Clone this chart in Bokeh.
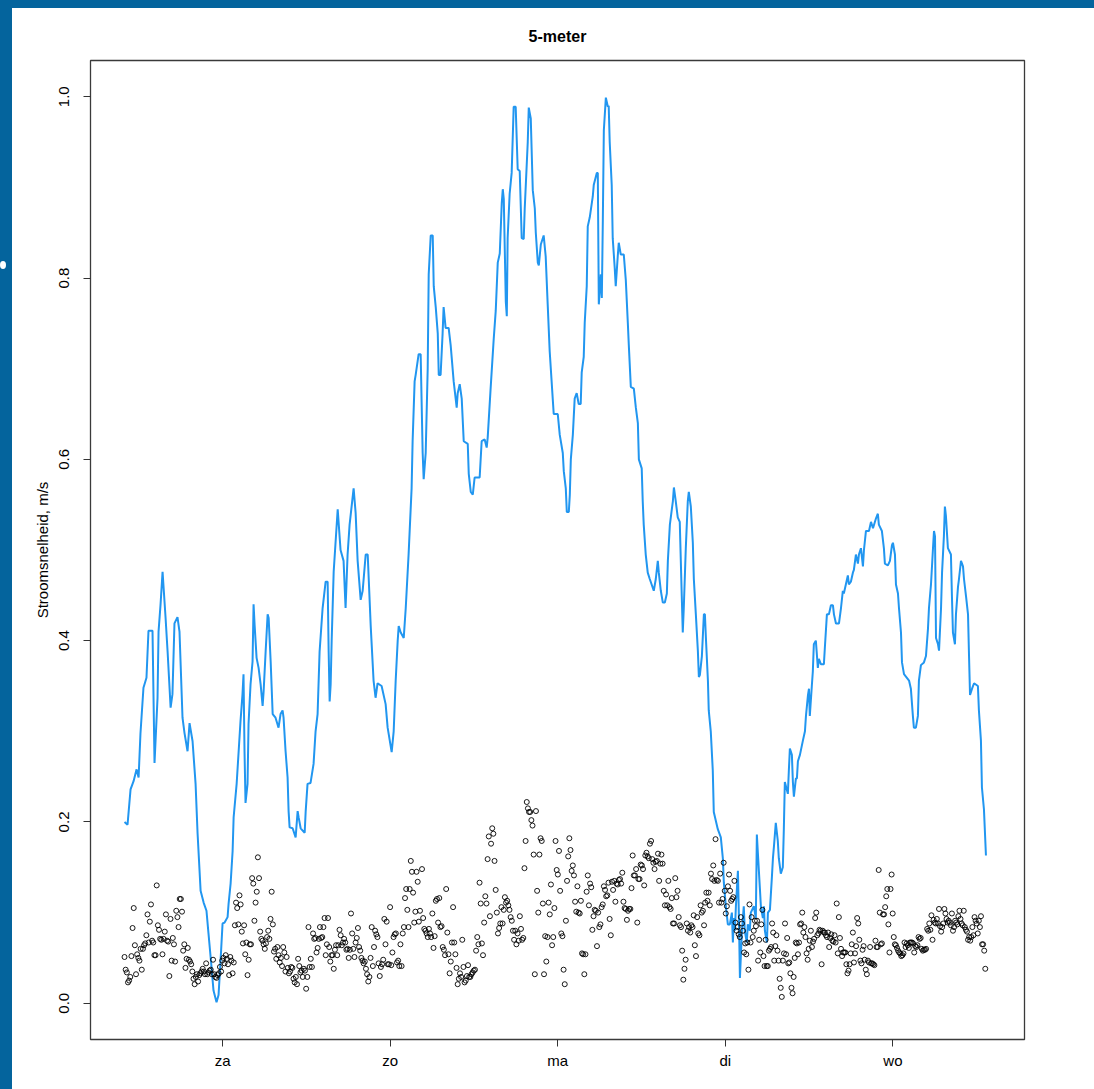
from bokeh.plotting import figure
from bokeh.models import Range1d, FixedTicker, PrintfTickFormatter, Div
from bokeh.layouts import row, column
from bokeh.embed import file_html
from bokeh.resources import INLINE
import numpy as np

# ---------------- data ----------------
day_ticks = [1, 2, 3, 4, 5]
day_labels = ["za", "zo", "ma", "di", "wo"]
y_ticks = [0.0, 0.2, 0.4, 0.6, 0.8, 1.0]

# blue line: time (days, za = 1) and current speed (m/s)
line_t = [0.415,0.433,0.451,0.469,0.487,0.499,0.510,0.528,0.546,0.558,0.582,0.594,0.612,0.618,0.630,0.642,0.660,0.672,0.690,0.701,
0.713,0.731,0.743,0.761,0.773,0.791,0.803,0.821,0.839,0.851,0.869,0.887,0.904,0.916,0.934,0.946,0.964,0.976,0.988,1.000,
1.012,1.030,1.036,1.048,1.060,1.066,1.084,1.096,1.107,1.119,1.125,1.131,1.137,1.149,1.155,1.167,1.179,1.185,1.191,1.203,
1.215,1.227,1.239,1.245,1.257,1.269,1.275,1.287,1.299,1.316,1.334,1.346,1.358,1.364,1.376,1.388,1.394,1.400,1.418,1.436,
1.448,1.454,1.466,1.490,1.496,1.507,1.525,1.543,1.555,1.567,1.579,1.597,1.615,1.627,1.633,1.639,1.645,1.651,1.663,1.687,
1.704,1.722,1.734,1.746,1.758,1.782,1.794,1.806,1.824,1.836,1.854,1.866,1.884,1.901,1.913,1.925,1.949,1.973,1.985,2.009,
2.021,2.033,2.045,2.051,2.063,2.081,2.093,2.110,2.128,2.134,2.146,2.152,2.170,2.182,2.194,2.200,2.212,2.224,2.230,2.242,
2.254,2.260,2.272,2.284,2.290,2.301,2.313,2.319,2.331,2.349,2.361,2.379,2.397,2.403,2.415,2.427,2.439,2.463,2.469,2.481,
2.493,2.504,2.534,2.546,2.564,2.576,2.582,2.600,2.618,2.630,2.642,2.654,2.666,2.672,2.678,2.690,2.696,2.701,2.713,2.725,
2.737,2.749,2.761,2.773,2.785,2.797,2.803,2.821,2.827,2.839,2.851,2.863,2.869,2.881,2.887,2.899,2.916,2.928,2.940,2.952,
2.970,2.976,3.000,3.012,3.030,3.036,3.048,3.054,3.066,3.072,3.078,3.090,3.101,3.113,3.125,3.137,3.143,3.155,3.161,3.173,
3.179,3.191,3.209,3.215,3.233,3.239,3.245,3.257,3.263,3.269,3.275,3.287,3.299,3.304,3.310,3.322,3.328,3.340,3.346,3.358,
3.364,3.376,3.394,3.406,3.418,3.424,3.436,3.454,3.466,3.478,3.484,3.501,3.507,3.513,3.525,3.537,3.549,3.573,3.585,3.597,
3.603,3.615,3.627,3.639,3.651,3.657,3.669,3.687,3.693,3.704,3.716,3.728,3.740,3.746,3.752,3.764,3.776,3.782,3.794,3.806,
3.812,3.824,3.836,3.842,3.848,3.860,3.872,3.878,3.884,3.896,3.901,3.913,3.925,3.931,3.955,3.973,3.985,3.991,4.003,4.015,
4.027,4.039,4.045,4.051,4.057,4.063,4.075,4.081,4.087,4.099,4.110,4.116,4.128,4.134,4.146,4.152,4.170,4.182,4.188,4.194,
4.206,4.212,4.224,4.230,4.236,4.248,4.254,4.266,4.278,4.284,4.290,4.301,4.313,4.319,4.331,4.343,4.349,4.355,4.373,4.379,
4.385,4.397,4.403,4.409,4.421,4.427,4.433,4.445,4.463,4.475,4.481,4.493,4.499,4.504,4.516,4.522,4.528,4.540,4.552,4.558,
4.570,4.588,4.594,4.606,4.618,4.630,4.642,4.648,4.660,4.678,4.690,4.701,4.707,4.719,4.731,4.737,4.749,4.761,4.767,4.779,
4.791,4.797,4.809,4.821,4.827,4.839,4.857,4.869,4.881,4.899,4.910,4.916,4.934,4.946,4.952,4.970,4.982,4.994,5.000,5.012,
5.018,5.030,5.036,5.048,5.054,5.066,5.096,5.107,5.119,5.125,5.137,5.149,5.155,5.167,5.185,5.197,5.209,5.215,5.227,5.239,
5.245,5.251,5.257,5.269,5.275,5.287,5.293,5.304,5.310,5.316,5.328,5.346,5.352,5.358,5.370,5.376,5.388,5.394,5.406,5.418,
5.424,5.436,5.448,5.454,5.460,5.472,5.484,5.507,5.513,5.525,5.531,5.543,5.555]

line_v = [0.200,0.197,0.236,0.245,0.258,0.249,0.297,0.348,0.359,0.411,0.411,0.265,0.337,0.410,0.440,0.476,0.425,0.388,0.326,0.341,
0.419,0.426,0.410,0.315,0.298,0.278,0.309,0.289,0.242,0.187,0.124,0.111,0.102,0.077,0.040,0.014,0.001,0.009,0.047,0.088,
0.089,0.095,0.110,0.132,0.168,0.205,0.242,0.278,0.311,0.341,0.363,0.278,0.221,0.242,0.308,0.352,0.377,0.440,0.418,0.381,
0.370,0.352,0.328,0.344,0.388,0.429,0.425,0.377,0.319,0.315,0.304,0.319,0.323,0.315,0.278,0.249,0.212,0.194,0.193,0.183,
0.212,0.205,0.193,0.188,0.212,0.242,0.243,0.264,0.300,0.319,0.388,0.436,0.465,0.465,0.388,0.333,0.352,0.400,0.476,0.545,
0.500,0.488,0.436,0.495,0.528,0.568,0.541,0.488,0.445,0.455,0.495,0.495,0.416,0.356,0.337,0.353,0.350,0.330,0.304,0.277,
0.300,0.356,0.400,0.416,0.409,0.403,0.436,0.495,0.568,0.620,0.686,0.693,0.716,0.716,0.607,0.578,0.607,0.700,0.804,0.847,
0.847,0.791,0.768,0.739,0.693,0.693,0.739,0.768,0.745,0.745,0.726,0.686,0.657,0.673,0.683,0.667,0.620,0.617,0.584,0.564,
0.561,0.580,0.580,0.620,0.622,0.613,0.624,0.680,0.733,0.764,0.817,0.827,0.883,0.898,0.887,0.774,0.758,0.844,0.893,0.916,
0.989,0.989,0.920,0.918,0.844,0.843,0.877,0.950,0.988,0.976,0.897,0.877,0.850,0.817,0.814,0.837,0.847,0.824,0.771,0.719,
0.667,0.650,0.650,0.627,0.607,0.587,0.568,0.542,0.542,0.561,0.600,0.627,0.667,0.673,0.661,0.661,0.696,0.713,0.751,0.791,
0.857,0.867,0.890,0.903,0.916,0.916,0.771,0.804,0.778,0.864,0.963,0.999,0.989,0.990,0.950,0.903,0.844,0.811,0.791,0.824,
0.839,0.826,0.826,0.798,0.751,0.726,0.680,0.678,0.657,0.640,0.600,0.590,0.554,0.528,0.495,0.475,0.468,0.455,0.468,0.488,
0.475,0.455,0.442,0.442,0.452,0.488,0.528,0.554,0.569,0.554,0.536,0.531,0.449,0.409,0.436,0.502,0.554,0.564,0.548,0.508,
0.468,0.429,0.389,0.360,0.362,0.383,0.429,0.429,0.403,0.356,0.323,0.300,0.257,0.211,0.192,0.183,0.160,0.133,0.107,0.087,
0.087,0.100,0.067,0.094,0.080,0.107,0.146,0.094,0.028,0.080,0.107,0.080,0.067,0.087,0.080,0.100,0.107,0.094,0.186,0.166,
0.127,0.107,0.094,0.107,0.080,0.067,0.100,0.103,0.140,0.160,0.173,0.199,0.179,0.160,0.143,0.150,0.192,0.244,0.231,0.257,
0.281,0.274,0.244,0.228,0.248,0.248,0.267,0.274,0.290,0.300,0.317,0.340,0.347,0.317,0.350,0.366,0.396,0.400,0.370,0.380,
0.374,0.374,0.393,0.429,0.429,0.439,0.439,0.429,0.419,0.419,0.436,0.455,0.452,0.462,0.472,0.462,0.465,0.475,0.478,0.495,
0.485,0.495,0.502,0.482,0.500,0.521,0.521,0.531,0.524,0.535,0.540,0.528,0.521,0.502,0.485,0.483,0.488,0.505,0.508,0.495,
0.462,0.452,0.436,0.409,0.376,0.363,0.356,0.347,0.317,0.304,0.304,0.317,0.356,0.373,0.376,0.383,0.413,0.436,0.462,0.502,
0.521,0.515,0.403,0.396,0.389,0.436,0.475,0.515,0.548,0.538,0.502,0.495,0.449,0.409,0.396,0.429,0.459,0.468,0.488,0.482,
0.468,0.449,0.429,0.383,0.340,0.347,0.353,0.350,0.323,0.290,0.238,0.214,0.163]

# open circles: regularly sampled measurements, in three stretches (start day, end day, values)
pts1_start, pts1_end = 0.415, 2.178
pts1_v = [0.051,0.037,0.034,0.023,0.025,0.029,0.052,0.083,0.105,0.064,0.032,0.054,0.050,0.047,0.060,0.037,0.060,0.064,0.066,0.075,
0.098,0.067,0.090,0.109,0.069,0.067,0.053,0.053,0.130,0.086,0.081,0.071,0.070,0.054,0.071,0.079,0.098,0.069,0.068,0.030,
0.093,0.047,0.072,0.065,0.046,0.102,0.095,0.084,0.115,0.115,0.101,0.058,0.065,0.039,0.049,0.061,0.048,0.046,0.043,0.035,
0.027,0.021,0.029,0.032,0.024,0.031,0.033,0.035,0.038,0.035,0.032,0.044,0.032,0.034,0.036,0.037,0.032,0.048,0.032,0.029,
0.028,0.031,0.033,0.040,0.035,0.047,0.050,0.044,0.053,0.049,0.043,0.031,0.051,0.047,0.033,0.045,0.086,0.111,0.105,0.087,
0.119,0.109,0.079,0.066,0.086,0.054,0.067,0.031,0.048,0.065,0.065,0.138,0.132,0.091,0.111,0.123,0.161,0.138,0.079,0.071,
0.069,0.065,0.060,0.066,0.073,0.080,0.071,0.093,0.123,0.087,0.057,0.060,0.049,0.062,0.053,0.045,0.050,0.041,0.062,0.056,
0.035,0.051,0.039,0.033,0.035,0.040,0.039,0.027,0.023,0.029,0.021,0.049,0.041,0.034,0.036,0.029,0.038,0.036,0.016,0.029,
0.084,0.040,0.049,0.040,0.077,0.071,0.072,0.056,0.061,0.071,0.084,0.072,0.073,0.084,0.094,0.053,0.065,0.094,0.062,0.046,
0.053,0.053,0.038,0.059,0.064,0.053,0.064,0.081,0.075,0.064,0.067,0.071,0.067,0.059,0.060,0.050,0.059,0.099,0.077,0.060,
0.051,0.067,0.072,0.083,0.062,0.058,0.050,0.047,0.044,0.046,0.038,0.032,0.024,0.029,0.050,0.084,0.041,0.062,0.080,0.076,
0.073,0.044,0.030,0.040,0.043,0.048,0.093,0.065,0.090,0.043,0.043,0.106,0.042,0.056,0.073,0.076,0.077,0.045,0.047,0.041,
0.065,0.041,0.077,0.084,0.116,0.126,0.103,0.084,0.126,0.157,0.145,0.122,0.089,0.101,0.145,0.134,0.090,0.102]

pts2_start, pts2_end = 2.190, 3.969
pts2_v = [0.148,0.094,0.082,0.080,0.077,0.073,0.082,0.077,0.073,0.099,0.061,0.074,0.113,0.115,0.089,0.116,0.084,0.085,0.062,0.059,
0.053,0.126,0.078,0.054,0.033,0.046,0.067,0.106,0.067,0.054,0.039,0.021,0.027,0.033,0.029,0.070,0.040,0.023,0.025,0.030,
0.042,0.029,0.029,0.032,0.034,0.036,0.037,0.058,0.073,0.065,0.133,0.110,0.066,0.053,0.089,0.118,0.110,0.159,0.184,0.096,
0.176,0.193,0.187,0.157,0.125,0.100,0.077,0.083,0.088,0.106,0.088,0.103,0.117,0.111,0.113,0.108,0.103,0.095,0.091,0.080,
0.070,0.080,0.065,0.077,0.069,0.096,0.082,0.070,0.072,0.149,0.179,0.222,0.215,0.211,0.211,0.202,0.196,0.164,0.032,0.212,
0.124,0.100,0.164,0.182,0.179,0.110,0.032,0.074,0.046,0.073,0.111,0.098,0.131,0.064,0.073,0.105,0.179,0.147,0.142,0.168,
0.124,0.077,0.074,0.037,0.021,0.091,0.135,0.162,0.182,0.169,0.146,0.152,0.141,0.112,0.101,0.129,0.100,0.099,0.113,0.055,
0.054,0.032,0.054,0.123,0.141,0.108,0.132,0.128,0.081,0.096,0.103,0.102,0.063,0.100,0.084,0.087,0.106,0.109,0.129,0.125,
0.118,0.119,0.133,0.093,0.075,0.134,0.125,0.135,0.112,0.132,0.131,0.136,0.137,0.132,0.144,0.112,0.105,0.104,0.092,0.102,
0.104,0.104,0.127,0.163,0.141,0.141,0.148,0.089,0.137,0.137,0.153,0.152,0.148,0.130,0.163,0.166,0.162,0.160,0.176,0.179,
0.159,0.155,0.148,0.156,0.157,0.165,0.135,0.154,0.164,0.154,0.124,0.108,0.120,0.108,0.135,0.106,0.104,0.116,0.088,0.088,
0.138,0.117,0.124,0.095,0.086,0.084,0.058,0.026,0.038,0.048,0.088,0.080,0.084,0.078,0.086,0.084,0.097,0.064,0.052,0.095,
0.077,0.075,0.108,0.100,0.102,0.086,0.111,0.122,0.113,0.122,0.108,0.143,0.137,0.152,0.135,0.181,0.136,0.135,0.111,0.143]

pts3_start, pts3_end = 3.977, 5.551
pts3_v = [0.111,0.115,0.155,0.124,0.099,0.107,0.129,0.142,0.124,0.113,0.115,0.117,0.135,0.089,0.080,0.084,0.076,0.073,0.095,0.088,
0.080,0.056,0.066,0.054,0.067,0.037,0.109,0.067,0.095,0.073,0.080,0.091,0.085,0.091,0.047,0.070,0.056,0.087,0.103,0.052,
0.041,0.070,0.041,0.041,0.058,0.060,0.062,0.088,0.078,0.047,0.063,0.075,0.058,0.047,0.027,0.017,0.007,0.047,0.055,0.088,
0.054,0.072,0.044,0.045,0.033,0.017,0.011,0.029,0.050,0.067,0.066,0.054,0.067,0.087,0.088,0.100,0.078,0.084,0.073,0.055,
0.048,0.060,0.069,0.080,0.062,0.068,0.071,0.094,0.100,0.075,0.077,0.081,0.080,0.043,0.080,0.078,0.078,0.075,0.073,0.078,
0.062,0.072,0.076,0.069,0.068,0.075,0.067,0.110,0.055,0.095,0.072,0.060,0.052,0.056,0.056,0.056,0.043,0.033,0.036,0.043,
0.055,0.065,0.078,0.045,0.055,0.063,0.094,0.088,0.070,0.047,0.044,0.059,0.063,0.048,0.037,0.032,0.047,0.045,0.062,0.044,
0.044,0.043,0.042,0.069,0.062,0.062,0.147,0.100,0.065,0.066,0.098,0.098,0.106,0.118,0.126,0.087,0.056,0.126,0.142,0.099,
0.073,0.065,0.064,0.061,0.058,0.056,0.055,0.052,0.053,0.055,0.067,0.062,0.066,0.064,0.061,0.067,0.067,0.067,0.066,0.056,
0.063,0.062,0.064,0.073,0.071,0.072,0.060,0.058,0.059,0.059,0.060,0.082,0.080,0.088,0.081,0.097,0.070,0.092,0.089,0.088,
0.093,0.088,0.104,0.085,0.079,0.084,0.088,0.104,0.099,0.093,0.089,0.091,0.089,0.086,0.099,0.080,0.084,0.091,0.089,0.087,
0.096,0.102,0.093,0.088,0.086,0.102,0.084,0.081,0.079,0.070,0.073,0.069,0.073,0.084,0.075,0.095,0.091,0.088,0.077,0.091,
0.084,0.096,0.065,0.065,0.058,0.038]

# ---------------- figure ----------------
BLUE = "#04649d"
FONT = "Liberation Sans"

p = figure(width=1082, height=1081, output_backend="svg", toolbar_location=None,
           x_range=Range1d(0.212, 5.785), y_range=Range1d(-0.04, 1.04),
           min_border_left=78, min_border_right=70, min_border_top=52, min_border_bottom=50,
           background_fill_color="white", border_fill_color="white")
p.grid.visible = False
p.outline_line_color = "#3a3a3a"
p.outline_line_width = 1.3

p.title.text = "5-meter"
p.title.align = "center"
p.title.text_font = FONT
p.title.text_font_size = "16px"
p.title.text_font_style = "bold"
p.title.text_color = "black"
p.title.standoff = 32

p.xaxis.ticker = FixedTicker(ticks=day_ticks)
p.xaxis.major_label_overrides = {t: l for t, l in zip(day_ticks, day_labels)}
p.yaxis.ticker = FixedTicker(ticks=y_ticks)
p.yaxis.formatter = PrintfTickFormatter(format="%.1f")
p.yaxis.major_label_orientation = "vertical"
p.yaxis.axis_label = "Stroomsnelheid, m/s"

for ax in (p.xaxis[0], p.yaxis[0]):
    ax.axis_line_color = None
    ax.major_tick_line_color = "#333333"
    ax.major_tick_line_width = 1
    ax.major_tick_in = 0
    ax.major_tick_out = 7
    ax.minor_tick_line_color = None
    ax.major_label_text_font = FONT
    ax.major_label_text_font_size = "15px"
    ax.major_label_text_color = "black"
    ax.axis_label_text_font = FONT
    ax.axis_label_text_font_size = "15px"
    ax.axis_label_text_font_style = "normal"
    ax.axis_label_text_color = "black"

p.xaxis.major_label_standoff = 5
p.yaxis.major_label_standoff = 14
p.yaxis.axis_label_standoff = 6

p.line(line_t, line_v, line_color="#2196f0", line_width=2)

pts_t = np.concatenate([np.linspace(pts1_start, pts1_end, len(pts1_v)),
                        np.linspace(pts2_start, pts2_end, len(pts2_v)),
                        np.linspace(pts3_start, pts3_end, len(pts3_v))])
pts_v = pts1_v + pts2_v + pts3_v
p.scatter(pts_t, pts_v, marker="circle", size=5, fill_color=None,
          line_color="black", line_width=0.9)

left = Div(text='<div style="position:absolute;left:0px;top:261px;width:6px;height:8px;'
                'border-radius:50%;background:#ffffff;"></div>',
           width=12, height=1089, margin=0,
           styles={"background-color": BLUE, "position": "relative"})
top = Div(text="", width=1082, height=8, margin=0, styles={"background-color": BLUE})

layout = row(left, column(top, p, spacing=0), spacing=0)

open("out.html", "w").write(file_html(layout, INLINE))
